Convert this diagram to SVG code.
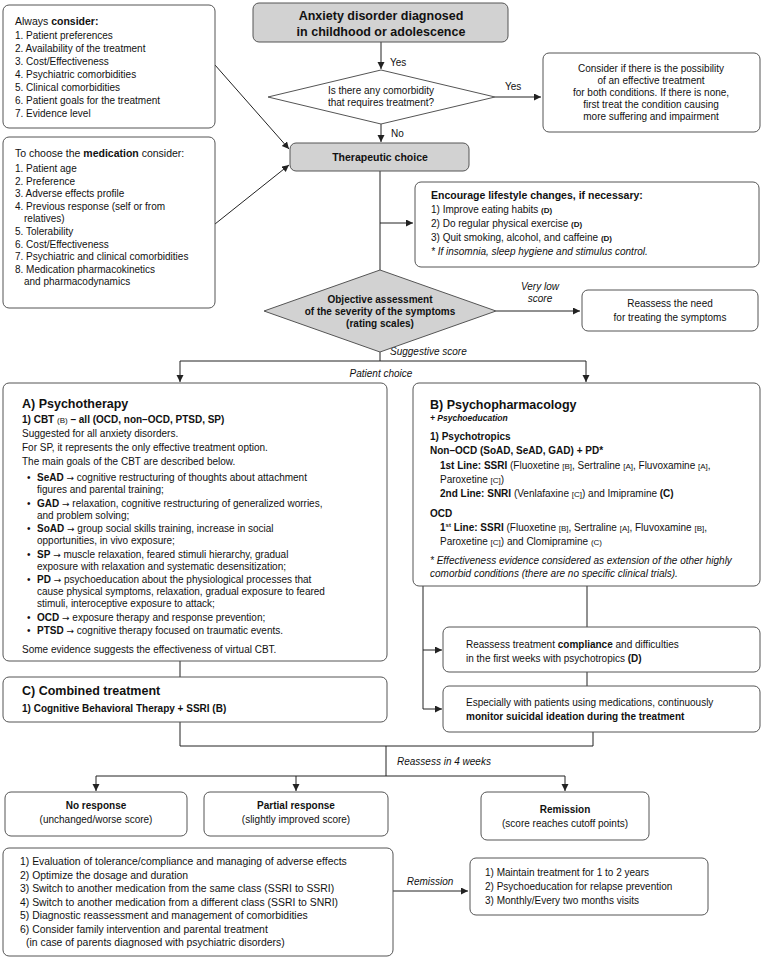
<svg xmlns="http://www.w3.org/2000/svg" width="765" height="959" viewBox="0 0 765 959">
<defs>
<style>
text{font-family:"Liberation Sans",Arial,Helvetica,sans-serif;font-size:10px;fill:#111}
.b{font-weight:bold}
.i{font-style:italic}
.c{text-anchor:middle}
.t{font-size:12.5px;font-weight:bold}
.s{font-size:8px}
.ar{font-family:"DejaVu Sans",sans-serif;font-size:9px;font-weight:normal}
.box{fill:#fff;stroke:#555;stroke-width:1}
.gray{fill:#d2d2d2;stroke:#555;stroke-width:1}
.ln{stroke:#222;stroke-width:1;fill:none}
</style>
<marker id="ah" markerWidth="8" markerHeight="8" refX="7" refY="3.5" orient="auto" markerUnits="userSpaceOnUse"><path d="M0,0 L7,3.5 L0,7 z" fill="#222"/></marker>
</defs>
<rect width="765" height="959" fill="#fff"/>

<g id="connectors" class="ln">
<line x1="381" y1="42" x2="381" y2="69" marker-end="url(#ah)"/>
<line x1="495" y1="97" x2="541" y2="97" marker-end="url(#ah)"/>
<line x1="381" y1="124" x2="381" y2="142" marker-end="url(#ah)"/>
<line x1="215" y1="65" x2="289" y2="149" marker-end="url(#ah)"/>
<line x1="215" y1="224" x2="289" y2="165" marker-end="url(#ah)"/>
<line x1="380" y1="171" x2="380" y2="270"/>
<line x1="380" y1="223" x2="413" y2="223" marker-end="url(#ah)"/>
<line x1="496" y1="311" x2="580" y2="311" marker-end="url(#ah)"/>
<line x1="380" y1="352" x2="380" y2="361"/>
<line x1="180" y1="361" x2="586" y2="361"/>
<line x1="180" y1="361" x2="180" y2="382" marker-end="url(#ah)"/>
<line x1="586" y1="361" x2="586" y2="382" marker-end="url(#ah)"/>
<line x1="180" y1="661" x2="180" y2="677"/>
<line x1="423" y1="586" x2="423" y2="709"/>
<line x1="423" y1="650" x2="442" y2="650" marker-end="url(#ah)"/>
<line x1="423" y1="709" x2="442" y2="709" marker-end="url(#ah)"/>
<line x1="587" y1="586" x2="587" y2="627"/>
<line x1="587" y1="672" x2="587" y2="686"/>
<line x1="180" y1="722" x2="180" y2="746"/>
<line x1="593" y1="732" x2="593" y2="746"/>
<line x1="180" y1="746" x2="593" y2="746"/>
<line x1="386" y1="746" x2="386" y2="776"/>
<line x1="96" y1="776" x2="565" y2="776"/>
<line x1="96" y1="776" x2="96" y2="791" marker-end="url(#ah)"/>
<line x1="296" y1="776" x2="296" y2="791" marker-end="url(#ah)"/>
<line x1="565" y1="776" x2="565" y2="791" marker-end="url(#ah)"/>
<line x1="393" y1="891" x2="468" y2="891" marker-end="url(#ah)"/>
</g>

<g id="edge-labels">
<text x="390" y="66">Yes</text>
<text x="505" y="90">Yes</text>
<text x="391" y="137">No</text>
<text class="i c" x="540" y="290">Very low</text>
<text class="i c" x="540" y="302">score</text>
<text class="i" x="390" y="355">Suggestive score</text>
<text class="i c" x="381" y="377">Patient choice</text>
<text class="i" x="397" y="765">Reassess in 4 weeks</text>
<text class="i c" x="430" y="885">Remission</text>
</g>

<g id="start">
<rect class="gray" x="253" y="3" width="255" height="39" rx="6"/>
<text class="c b" x="381" y="20" style="font-size:12.5px">Anxiety disorder diagnosed</text>
<text class="c b" x="381" y="36" style="font-size:12.5px">in childhood or adolescence</text>
</g>

<g id="comorbidity">
<polygon class="box" points="381,70 495,97 381,124 268,97"/>
<text class="c" x="381" y="94">Is there any comorbidity</text>
<text class="c" x="381" y="106">that requires treatment?</text>
</g>

<g id="both-conditions">
<rect class="box" x="543" y="53" width="217" height="79" rx="6"/>
<text class="c" x="651" y="72">Consider if there is the possibility</text>
<text class="c" x="651" y="84">of an effective treatment</text>
<text class="c" x="651" y="96">for both conditions. If there is none,</text>
<text class="c" x="651" y="108">first treat the condition causing</text>
<text class="c" x="651" y="120">more suffering and impairment</text>
</g>

<g id="always-consider">
<rect class="box" x="3" y="5" width="212" height="123" rx="6"/>
<text x="15" y="25" style="font-size:10.5px">Always <tspan class="b">consider:</tspan></text>
<text x="15" y="39">1. Patient preferences</text>
<text x="15" y="52">2. Availability of the treatment</text>
<text x="15" y="65">3. Cost/Effectiveness</text>
<text x="15" y="78">4. Psychiatric comorbidities</text>
<text x="15" y="91">5. Clinical comorbidities</text>
<text x="15" y="104">6. Patient goals for the treatment</text>
<text x="15" y="117">7. Evidence level</text>
</g>

<g id="medication-consider">
<rect class="box" x="3" y="137" width="212" height="171" rx="6"/>
<text x="15" y="157" style="font-size:10.5px">To choose the <tspan class="b">medication</tspan> consider:</text>
<text x="15" y="172">1. Patient age</text>
<text x="15" y="184.6">2. Preference</text>
<text x="15" y="197.2">3. Adverse effects profile</text>
<text x="15" y="209.8">4. Previous response (self or from</text>
<text x="24" y="222.4">relatives)</text>
<text x="15" y="235">5. Tolerability</text>
<text x="15" y="247.6">6. Cost/Effectiveness</text>
<text x="15" y="260.2">7. Psychiatric and clinical comorbidities</text>
<text x="15" y="272.8">8. Medication pharmacokinetics</text>
<text x="24" y="285.4">and pharmacodynamics</text>
</g>

<g id="therapeutic-choice">
<rect class="gray" x="290" y="143" width="179" height="28" rx="6"/>
<text class="c b" x="380" y="161" style="font-size:10.5px">Therapeutic choice</text>
</g>

<g id="lifestyle">
<rect class="box" x="415" y="182" width="344" height="85" rx="6"/>
<text class="b" x="431" y="199" style="font-size:10.5px">Encourage lifestyle changes, if necessary:</text>
<text x="431" y="213">1) Improve eating habits <tspan class="b s">(D)</tspan></text>
<text x="431" y="227">2) Do regular physical exercise <tspan class="b s">(D)</tspan></text>
<text x="431" y="241">3) Quit smoking, alcohol, and caffeine <tspan class="b s">(D)</tspan></text>
<text class="i" x="431" y="255">* If insomnia, sleep hygiene and stimulus control.</text>
</g>

<g id="assessment">
<polygon class="gray" points="380,270 496,311 380,352 264,311"/>
<text class="c b" x="380" y="303">Objective assessment</text>
<text class="c b" x="380" y="315">of the severity of the symptoms</text>
<text class="c b" x="380" y="327">(rating scales)</text>
</g>

<g id="reassess-need">
<rect class="box" x="582" y="290" width="176" height="41" rx="6"/>
<text class="c" x="670" y="307">Reassess the need</text>
<text class="c" x="670" y="321">for treating the symptoms</text>
</g>

<g id="psychotherapy">
<rect class="box" x="3" y="383" width="384" height="278" rx="6"/>
<text class="t" x="22" y="408">A) Psychotherapy</text>
<text class="b" x="22" y="423">1) CBT <tspan class="s" font-weight="normal">(B)</tspan> – all (OCD, non–OCD, PTSD, SP)</text>
<text x="22" y="437">Suggested for all anxiety disorders.</text>
<text x="22" y="451">For SP, it represents the only effective treatment option.</text>
<text x="22" y="465">The main goals of the CBT are described below.</text>
<text x="27" y="481">•</text><text x="37" y="481"><tspan class="b">SeAD</tspan> <tspan class="ar">→</tspan> cognitive restructuring of thoughts about attachment</text>
<text x="37" y="493">figures and parental training;</text>
<text x="27" y="506.5">•</text><text x="37" y="506.5"><tspan class="b">GAD</tspan> <tspan class="ar">→</tspan> relaxation, cognitive restructuring of generalized worries,</text>
<text x="37" y="518.5">and problem solving;</text>
<text x="27" y="532">•</text><text x="37" y="532"><tspan class="b">SoAD</tspan> <tspan class="ar">→</tspan> group social skills training, increase in social</text>
<text x="37" y="544">opportunities, in vivo exposure;</text>
<text x="27" y="557.5">•</text><text x="37" y="557.5"><tspan class="b">SP</tspan> <tspan class="ar">→</tspan> muscle relaxation, feared stimuli hierarchy, gradual</text>
<text x="37" y="569.5">exposure with relaxation and systematic desensitization;</text>
<text x="27" y="583">•</text><text x="37" y="583"><tspan class="b">PD</tspan> <tspan class="ar">→</tspan> psychoeducation about the physiological processes that</text>
<text x="37" y="595">cause physical symptoms, relaxation, gradual exposure to feared</text>
<text x="37" y="607">stimuli, interoceptive exposure to attack;</text>
<text x="27" y="620.5">•</text><text x="37" y="620.5"><tspan class="b">OCD</tspan> <tspan class="ar">→</tspan> exposure therapy and response prevention;</text>
<text x="27" y="634">•</text><text x="37" y="634"><tspan class="b">PTSD</tspan> <tspan class="ar">→</tspan> cognitive therapy focused on traumatic events.</text>
<text x="22" y="653">Some evidence suggests the effectiveness of virtual CBT.</text>
</g>

<g id="combined">
<rect class="box" x="3" y="677" width="384" height="45" rx="6"/>
<text class="t" x="22" y="695">C) Combined treatment</text>
<text class="b" x="22" y="712">1) Cognitive Behavioral Therapy + SSRI (B)</text>
</g>

<g id="psychopharmacology">
<rect class="box" x="413" y="383" width="347" height="203" rx="6"/>
<text class="t" x="430" y="409">B) Psychopharmacology</text>
<text class="b i" x="430" y="421" style="font-size:8.5px">+ Psychoeducation</text>
<text class="b" x="430" y="440">1) Psychotropics</text>
<text class="b" x="430" y="454">Non–OCD (SoAD, SeAD, GAD) + PD*</text>
<text x="440" y="469"><tspan class="b">1st Line: SSRI</tspan> (Fluoxetine <tspan class="s">[B]</tspan>, Sertraline <tspan class="s">[A]</tspan>, Fluvoxamine <tspan class="s">[A]</tspan>,</text>
<text x="440" y="483">Paroxetine <tspan class="s">[C]</tspan>)</text>
<text x="440" y="497"><tspan class="b">2nd Line: SNRI</tspan> (Venlafaxine <tspan class="s">[C]</tspan>) and Imipramine <tspan class="b">(C)</tspan></text>
<text class="b" x="430" y="517">OCD</text>
<text x="440" y="531"><tspan class="b">1<tspan font-size="6" dy="-4">st</tspan><tspan dy="4"> Line: SSRI</tspan></tspan> (Fluoxetine <tspan class="s">[B]</tspan>, Sertraline <tspan class="s">[A]</tspan>, Fluvoxamine <tspan class="s">[B]</tspan>,</text>
<text x="440" y="545">Paroxetine <tspan class="s">[C]</tspan>) and Clomipramine <tspan class="s">(C)</tspan></text>
<text class="i" x="430" y="564">* Effectiveness evidence considered as extension of the other highly</text>
<text class="i" x="430" y="577">comorbid conditions (there are no specific clinical trials).</text>
</g>

<g id="compliance">
<rect class="box" x="443" y="627" width="317" height="45" rx="6"/>
<text x="466" y="648">Reassess treatment <tspan class="b">compliance</tspan> and difficulties</text>
<text x="466" y="662">in the first weeks with psychotropics <tspan class="b">(D)</tspan></text>
</g>

<g id="suicidal-ideation">
<rect class="box" x="443" y="686" width="317" height="46" rx="6"/>
<text x="466" y="706">Especially with patients using medications, continuously</text>
<text class="b" x="466" y="720">monitor suicidal ideation during the treatment</text>
</g>

<g id="no-response">
<rect class="box" x="5" y="792" width="182" height="44" rx="6"/>
<text class="c b" x="96" y="809">No response</text>
<text class="c" x="96" y="823">(unchanged/worse score)</text>
</g>

<g id="partial-response">
<rect class="box" x="204" y="792" width="184" height="44" rx="6"/>
<text class="c b" x="296" y="809">Partial response</text>
<text class="c" x="296" y="823">(slightly improved score)</text>
</g>

<g id="remission">
<rect class="box" x="481" y="792" width="168" height="48" rx="6"/>
<text class="c b" x="565" y="813">Remission</text>
<text class="c" x="565" y="827">(score reaches cutoff points)</text>
</g>

<g id="no-response-actions">
<rect class="box" x="3" y="848" width="390" height="108" rx="6"/>
<g style="font-size:10.4px">
<text x="20" y="865" style="font-size:10.4px">1) Evaluation of tolerance/compliance and managing of adverse effects</text>
<text x="20" y="878.5" style="font-size:10.4px">2) Optimize the dosage and duration</text>
<text x="20" y="892" style="font-size:10.4px">3) Switch to another medication from the same class (SSRI to SSRI)</text>
<text x="20" y="905.5" style="font-size:10.4px">4) Switch to another medication from a different class (SSRI to SNRI)</text>
<text x="20" y="919" style="font-size:10.4px">5) Diagnostic reassessment and management of comorbidities</text>
<text x="20" y="932.5" style="font-size:10.4px">6) Consider family intervention and parental treatment</text>
<text x="26" y="946" style="font-size:10.4px">(in case of parents diagnosed with psychiatric disorders)</text>
</g>
</g>

<g id="maintenance">
<rect class="box" x="470" y="858" width="238" height="57" rx="6"/>
<text x="485" y="876">1) Maintain treatment for 1 to 2 years</text>
<text x="485" y="890">2) Psychoeducation for relapse prevention</text>
<text x="485" y="904">3) Monthly/Every two months visits</text>
</g>
</svg>
